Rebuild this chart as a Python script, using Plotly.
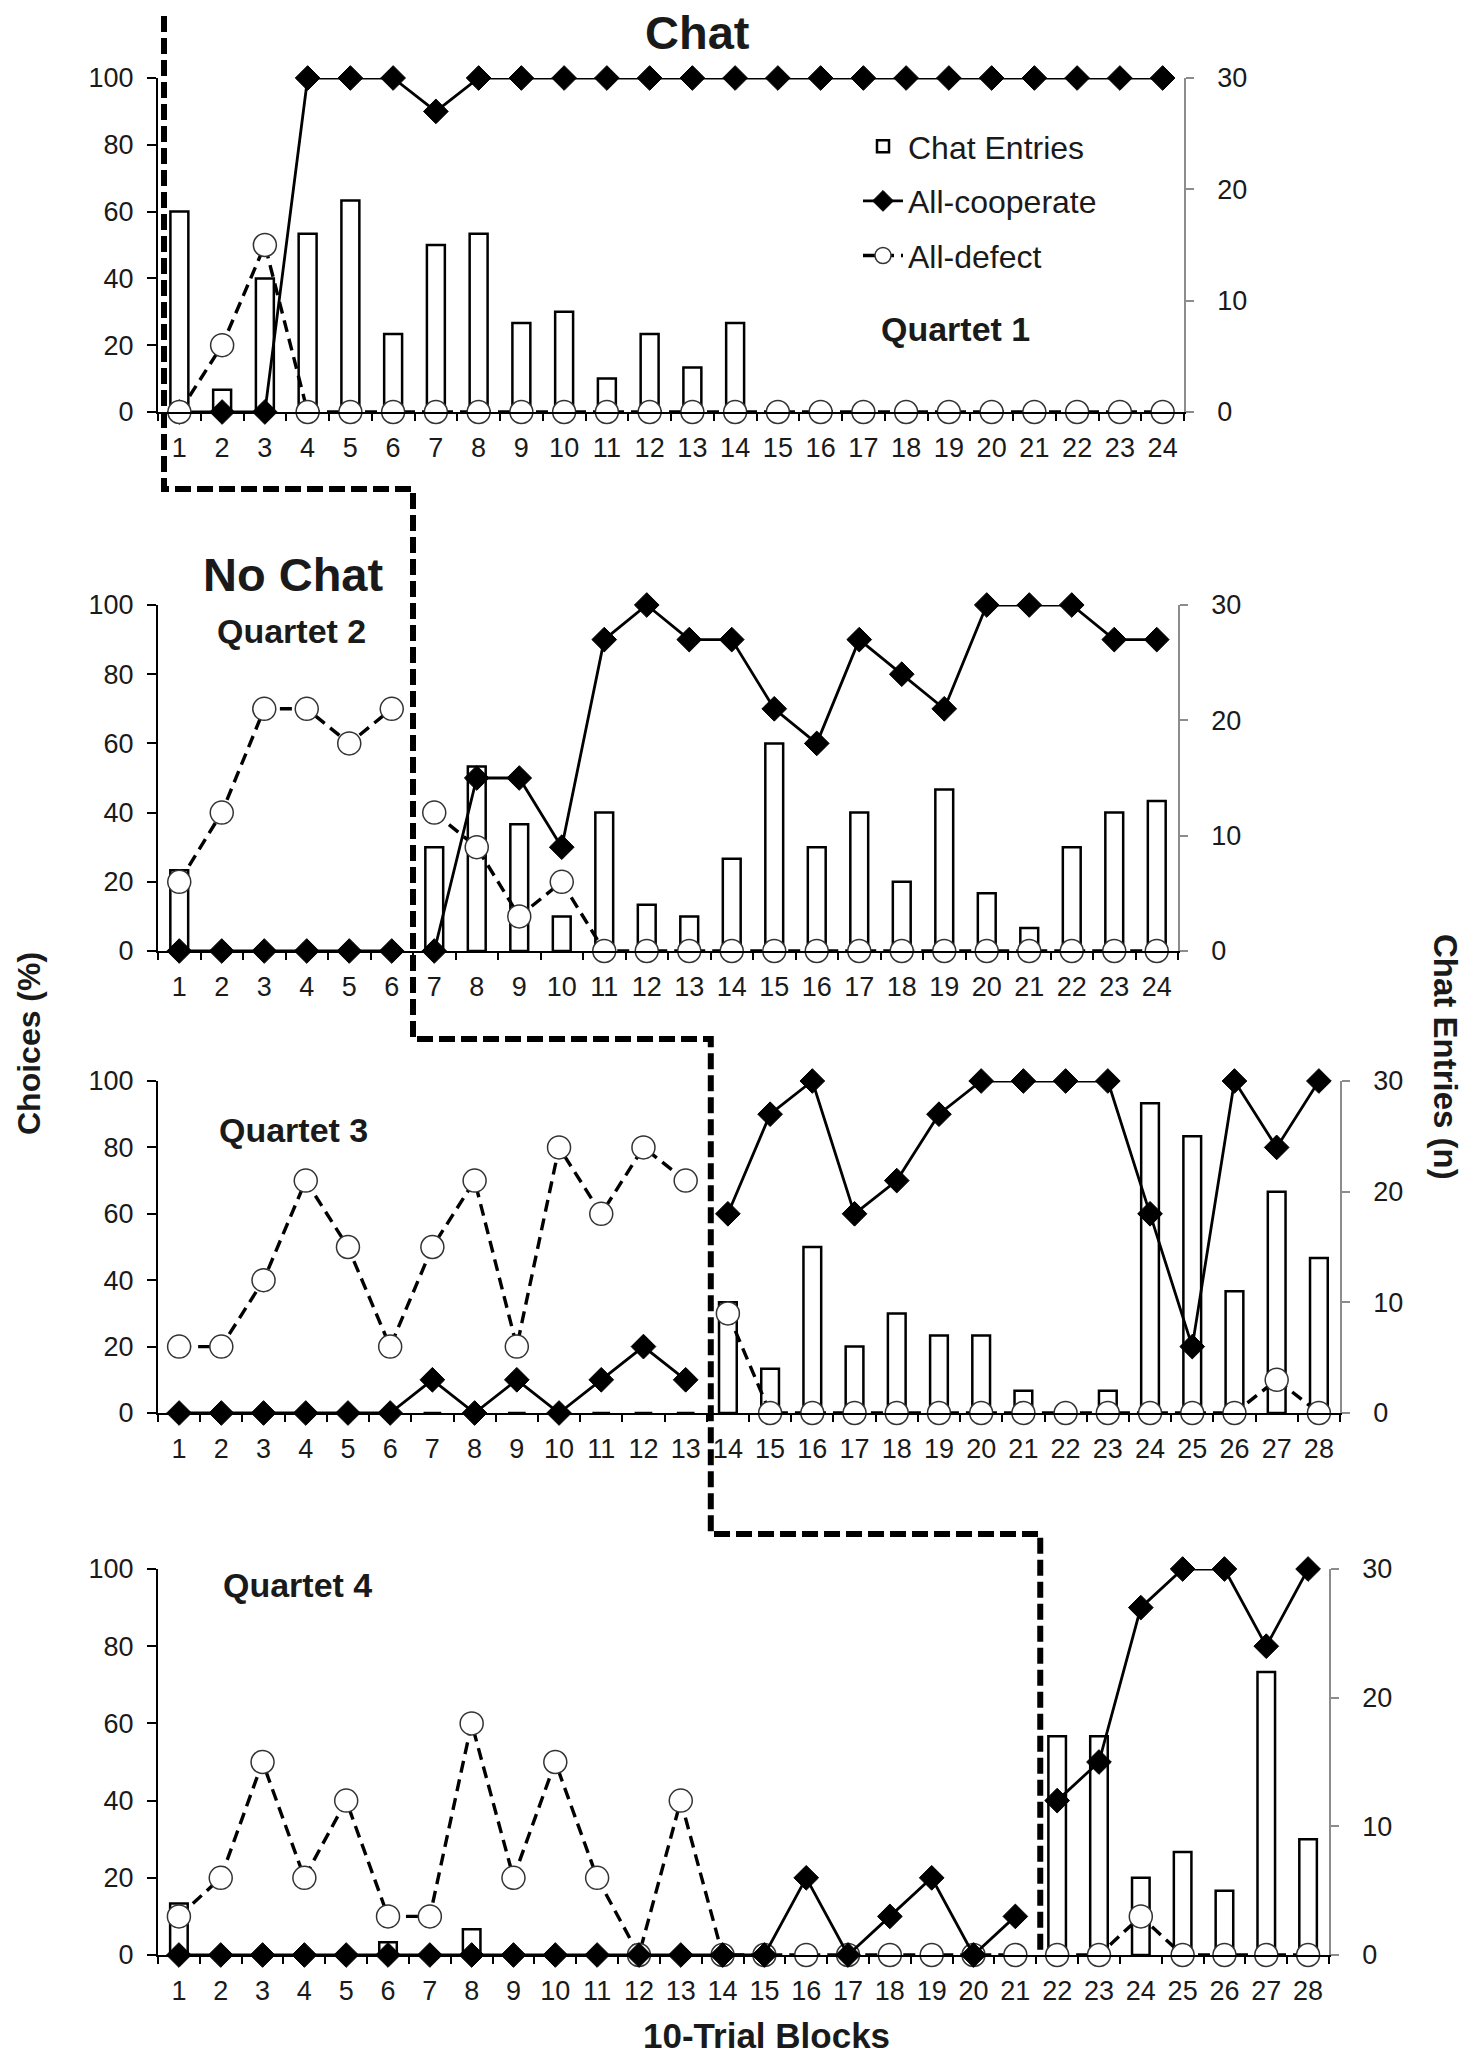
import plotly.graph_objects as go

W, H = 1483, 2070

# ---------------- data ----------------
quartet_labels = ["Quartet 1", "Quartet 2", "Quartet 3", "Quartet 4"]
blocks_24 = [1, 2, 3, 4, 5, 6, 7, 8, 9, 10, 11, 12, 13, 14, 15, 16, 17, 18, 19, 20, 21, 22, 23, 24]
blocks_28 = [1, 2, 3, 4, 5, 6, 7, 8, 9, 10, 11, 12, 13, 14, 15, 16, 17, 18, 19, 20, 21, 22, 23, 24,
             25, 26, 27, 28]
# number of leading "No Chat" blocks in each quartet
no_chat_blocks = [0, 6, 13, 21]

coop_q1 = [0, 0, 0, 100, 100, 100, 90, 100, 100, 100, 100, 100, 100, 100, 100, 100, 100, 100, 100,
           100, 100, 100, 100, 100]
defect_q1 = [0, 20, 50, 0, 0, 0, 0, 0, 0, 0, 0, 0, 0, 0, 0, 0, 0, 0, 0, 0, 0, 0, 0, 0]
chat_q1 = [18, 2, 12, 16, 19, 7, 15, 16, 8, 9, 3, 7, 4, 8, 0, 0, 0, 0, 0, 0, 0, 0, 0, 0]

coop_q2 = [0, 0, 0, 0, 0, 0, 0, 50, 50, 30, 90, 100, 90, 90, 70, 60, 90, 80, 70, 100, 100, 100, 90, 90]
defect_q2 = [20, 40, 70, 70, 60, 70, 40, 30, 10, 20, 0, 0, 0, 0, 0, 0, 0, 0, 0, 0, 0, 0, 0, 0]
chat_q2 = [7, 0, 0, 0, 0, 0, 9, 16, 11, 3, 12, 4, 3, 8, 18, 9, 12, 6, 14, 5, 2, 9, 12, 13]

coop_q3 = [0, 0, 0, 0, 0, 0, 10, 0, 10, 0, 10, 20, 10, 60, 90, 100, 60, 70, 90, 100, 100, 100, 100,
           60, 20, 100, 80, 100]
defect_q3 = [20, 20, 40, 70, 50, 20, 50, 70, 20, 80, 60, 80, 70, 30, 0, 0, 0, 0, 0, 0, 0, 0, 0, 0,
             0, 0, 10, 0]
chat_q3 = [0, 0, 0, 0, 0, 0, 0, 0, 0, 0, 0, 0, 0, 10, 4, 15, 6, 9, 7, 7, 2, 0, 2, 28, 25, 11, 20, 14]

coop_q4 = [0, 0, 0, 0, 0, 0, 0, 0, 0, 0, 0, 0, 0, 0, 0, 20, 0, 10, 20, 0, 10, 40, 50, 90, 100, 100,
           80, 100]
defect_q4 = [10, 20, 50, 20, 40, 10, 10, 60, 20, 50, 20, 0, 40, 0, 0, 0, 0, 0, 0, 0, 0, 0, 0, 10,
             0, 0, 0, 0]
chat_q4 = [4, 0, 0, 0, 0, 1, 0, 2, 0, 0, 0, 0, 0, 0, 0, 0, 0, 0, 0, 0, 0, 17, 17, 6, 8, 5, 22, 9]

choice_ticks = [0, 20, 40, 60, 80, 100]
chat_ticks = [0, 10, 20, 30]

panels = [
    dict(blocks=blocks_24, coop=coop_q1, defect=defect_q1, chat=chat_q1),
    dict(blocks=blocks_24, coop=coop_q2, defect=defect_q2, chat=chat_q2),
    dict(blocks=blocks_28, coop=coop_q3, defect=defect_q3, chat=chat_q3),
    dict(blocks=blocks_28, coop=coop_q4, defect=defect_q4, chat=chat_q4),
]

# ---------------- layout geometry (pixels) ----------------
x_dom_px = [(158, 1184), (158, 1178), (158, 1340), (158, 1329)]
y_dom_px = [(78, 412), (605, 951), (1081, 1413), (1569, 1955)]

TEXT = "#1a1a1a"
FAMILY = "Liberation Sans, Arial, sans-serif"
TICKFONT = dict(family=FAMILY, size=27, color=TEXT)


def xname(i):
    return "x" if i == 0 else f"x{i + 1}"


def ybar(i):
    n = 2 * i + 1
    return "y" if n == 1 else f"y{n}"


def ychoice(i):
    return f"y{2 * i + 2}"


def axkey(name):
    return name[0] + "axis" + name[1:]


fig = go.Figure()
layout = {}

for i, p in enumerate(panels):
    n = len(p["blocks"])
    k = no_chat_blocks[i]
    xa, yb, yc = xname(i), ybar(i), ychoice(i)
    show = (i == 0)

    # bars (chat entries) on the primary (right) axis so they sit beneath the lines
    fig.add_trace(go.Bar(
        x=p["blocks"], y=p["chat"], xaxis=xa, yaxis=yb, width=0.42,
        marker=dict(color="white", line=dict(color="black", width=2.5)),
        name="Chat Entries", legendgroup="chat", legendrank=1, showlegend=show,
    ))

    segs = []
    if k > 0:
        segs.append(("pre", slice(0, k)))
    segs.append(("post", slice(k, n)))

    for phase, sl in segs:
        xs = p["blocks"][sl]
        coop_tr = go.Scatter(
            x=xs, y=p["coop"][sl], xaxis=xa, yaxis=yc, mode="lines+markers",
            line=dict(color="black", width=2.8),
            marker=dict(symbol="diamond", size=19, color="black", line=dict(color="black", width=1)),
            cliponaxis=False, name="All-cooperate", legendgroup="coop", legendrank=2,
            showlegend=show and phase == "post",
        )
        def_tr = go.Scatter(
            x=xs, y=p["defect"][sl], xaxis=xa, yaxis=yc, mode="lines+markers",
            line=dict(color="black", width=3.4, dash="12px,7px"),
            marker=dict(symbol="circle", size=23, color="white", line=dict(color="#333333", width=1.5)),
            cliponaxis=False, name="All-defect", legendgroup="defect", legendrank=3,
            showlegend=show and phase == "post",
        )
        if phase == "pre":
            fig.add_trace(def_tr)
            fig.add_trace(coop_tr)
        else:
            fig.add_trace(coop_tr)
            fig.add_trace(def_tr)

    l, r = x_dom_px[i]
    t, b = y_dom_px[i]
    xdom = [l / W, r / W]
    ydom = [1 - b / H, 1 - t / H]

    layout[axkey(xa)] = dict(
        domain=xdom, range=[0.5, n + 0.5], anchor=yb, tickmode="array", tickvals=p["blocks"],
        ticks="outside", ticklen=11, tickcolor="rgba(0,0,0,0)", tickfont=TICKFONT,
        showline=True, linecolor="black", linewidth=2, showgrid=False, zeroline=False,
        automargin=False,
        minor=dict(tickmode="array", tickvals=[v - 0.5 for v in p["blocks"]] + [n + 0.5],
                   ticks="outside", ticklen=7, tickwidth=1.5, tickcolor="black", showgrid=False),
    )
    layout[axkey(yb)] = dict(
        domain=ydom, range=[0, 30], anchor=xa, side="right", tickmode="array", tickvals=chat_ticks,
        ticks="outside", ticklen=8, tickcolor="#8c8c8c", tickwidth=1.5, tickfont=TICKFONT,
        ticklabelstandoff=18, automargin=False,
        showline=True, linecolor="#8c8c8c", linewidth=1.5, showgrid=False, zeroline=False,
    )
    layout[axkey(yc)] = dict(
        range=[0, 100], anchor=xa, overlaying=yb, side="left", tickmode="array",
        tickvals=choice_ticks, ticks="outside", ticklen=9, tickcolor="black", tickwidth=1.5,
        tickfont=TICKFONT, ticklabelstandoff=8, automargin=False,
        showline=True, linecolor="black", linewidth=2, showgrid=False, zeroline=False,
    )


def px_x(i, xv):
    n = len(panels[i]["blocks"])
    l, r = x_dom_px[i]
    return l + (xv - 0.5) / n * (r - l)


def fx(px):
    return px / W


def fy(py):
    return 1 - py / H


# dashed divider between "No Chat" and "Chat" phases
bx = [px_x(i, no_chat_blocks[i] + 0.5) for i in range(4)]
bx[0] += 6
bx[2] += 4
bx[3] += 4
y_top, h1, h2, h3 = 16, 489, 1039, 1534
y_end = y_dom_px[3][1]
pts = [(bx[0], y_top), (bx[0], h1), (bx[1], h1), (bx[1], h2), (bx[2], h2), (bx[2], h3),
       (bx[3], h3), (bx[3], y_end)]
path = "M " + " L ".join(f"{fx(a):.5f},{fy(c):.5f}" for a, c in pts)
shapes = [dict(type="path", xref="paper", yref="paper", path=path,
               line=dict(color="black", width=6, dash="16px,6px"))]

annotations = []


def ann(text, x, y, size, bold=True, angle=0):
    annotations.append(dict(
        text=f"<b>{text}</b>" if bold else text, x=fx(x), y=fy(y), xref="paper", yref="paper",
        showarrow=False, xanchor="center", yanchor="middle", textangle=angle,
        font=dict(family=FAMILY, size=size, color=TEXT),
    ))


ann("Chat", 697, 33, 47)
ann("No Chat", 293, 574, 47)
ann(quartet_labels[0], 956, 329, 34)
ann(quartet_labels[1], 291, 631, 34)
ann(quartet_labels[2], 293, 1130, 34)
ann(quartet_labels[3], 297, 1585, 34)
ann("Choices (%)", 29, 1044, 32, angle=-90)
ann("Chat Entries (n)", 1446, 1057, 33, angle=90)
ann("10-Trial Blocks", 766, 2035, 35)

fig.update_layout(
    template="none",
    width=W, height=H, margin=dict(l=0, r=0, t=0, b=0, pad=0, autoexpand=False),
    paper_bgcolor="white", plot_bgcolor="rgba(0,0,0,0)",
    barmode="overlay", shapes=shapes, annotations=annotations, hovermode=False,
    legend=dict(x=fx(858), y=fy(119), xanchor="left", yanchor="top",
                font=dict(family=FAMILY, size=32, color=TEXT),
                bgcolor="rgba(0,0,0,0)", borderwidth=0, tracegroupgap=10, itemwidth=40),
    **layout,
)

fig.write_html("out.html", config={"displayModeBar": False},
               post_script="document.body.style.margin='0px';document.body.style.overflow='hidden';")
